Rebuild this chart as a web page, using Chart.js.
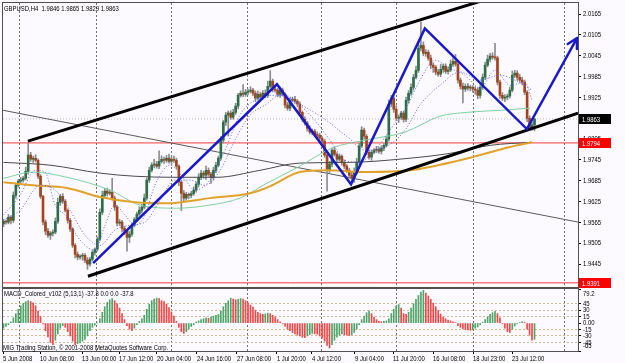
<!DOCTYPE html>
<html>
<head>
<meta charset="utf-8">
<title>GBPUSD,H4</title>
<script src="https://cdn.jsdelivr.net/npm/chart.js@4.4.1/dist/chart.umd.min.js"></script>
<style>
  html, body { margin: 0; padding: 0; background: #fcfaff; }
  #wrap { position: relative; width: 625px; height: 363px; overflow: hidden; background: #fcfaff; }
  #wrap canvas { position: absolute; left: 0; }
  #mainChart { top: 0; }
  #macdChart { top: 286px; }
  .txt { position: absolute; font: 8px 'Liberation Sans', Arial, sans-serif; color: #000; white-space: pre; line-height: 9px; transform: scaleX(0.74); transform-origin: 0 0; }
</style>
</head>
<body>
<div id="wrap">
  <canvas id="mainChart" width="625" height="288"></canvas>
  <canvas id="macdChart" width="625" height="77"></canvas>
  <div class="txt" style="left:4px;top:4px">GBPUSD,H4  1.9846 1.9865 1.9829 1.9863</div>
  <div class="txt" style="left:4px;top:289px">MACD_Colored_v102 (5,13,1) -37.8 0.0 0.0 -37.8</div>
  <div class="txt" style="left:3px;top:343px">MIG Trading Station, © 2001-2008 MetaQuotes Software Corp.</div>
</div>
<script>
'use strict';

// ---- H4 candles (one per bar, bar index = position) ----
const firstOpen = 1.9561;
const closes = [
  1.9568, 1.9566, 1.9580, 1.9571, 1.9643, 1.9672, 1.9684, 1.9687, 1.9692, 1.9712, 1.9759, 1.9747, 1.9750, 1.9744, 1.9698, 1.9640, 1.9566, 1.9540, 1.9528, 1.9534, 1.9537, 1.9568, 1.9623, 1.9640,
  1.9626, 1.9600, 1.9571, 1.9546, 1.9499, 1.9473, 1.9465, 1.9468, 1.9470, 1.9456, 1.9445, 1.9459, 1.9479, 1.9488, 1.9517, 1.9594, 1.9643, 1.9655, 1.9649, 1.9652, 1.9635, 1.9609, 1.9563, 1.9566,
  1.9548, 1.9540, 1.9522, 1.9531, 1.9557, 1.9574, 1.9589, 1.9600, 1.9609, 1.9635, 1.9687, 1.9715, 1.9730, 1.9733, 1.9727, 1.9741, 1.9747, 1.9744, 1.9750, 1.9741, 1.9747, 1.9744, 1.9727, 1.9681,
  1.9649, 1.9635, 1.9646, 1.9643, 1.9648, 1.9658, 1.9675, 1.9695, 1.9707, 1.9701, 1.9715, 1.9704, 1.9695, 1.9715, 1.9730, 1.9750, 1.9802, 1.9854, 1.9874, 1.9880, 1.9868, 1.9882, 1.9900, 1.9931,
  1.9937, 1.9934, 1.9940, 1.9943, 1.9946, 1.9937, 1.9923, 1.9934, 1.9926, 1.9937, 1.9931, 1.9957, 1.9972, 1.9949, 1.9946, 1.9934, 1.9946, 1.9934, 1.9903, 1.9894, 1.9917, 1.9920, 1.9914, 1.9906,
  1.9882, 1.9862, 1.9851, 1.9836, 1.9825, 1.9828, 1.9819, 1.9816, 1.9808, 1.9799, 1.9759, 1.9715, 1.9733, 1.9773, 1.9761, 1.9747, 1.9756, 1.9738, 1.9727, 1.9715, 1.9701, 1.9692, 1.9712, 1.9738,
  1.9785, 1.9831, 1.9813, 1.9767, 1.9753, 1.9767, 1.9773, 1.9776, 1.9770, 1.9779, 1.9787, 1.9805, 1.9906, 1.9923, 1.9891, 1.9865, 1.9868, 1.9880, 1.9862, 1.9917, 1.9937, 1.9954, 1.9983, 2.0003,
  2.0067, 2.0075, 2.0052, 2.0055, 2.0038, 2.0018, 2.0012, 1.9998, 1.9992, 2.0006, 2.0015, 2.0000, 2.0004, 2.0021, 2.0029, 2.0021, 1.9975, 1.9957, 1.9949, 1.9957, 1.9952, 1.9954, 1.9949, 1.9946,
  1.9931, 1.9954, 1.9983, 2.0018, 2.0035, 2.0044, 2.0041, 2.0039, 1.9969, 1.9931, 1.9923, 1.9926, 1.9929, 1.9946, 1.9989, 1.9995, 1.9983, 1.9975, 1.9969, 1.9940, 1.9865, 1.9839, 1.9846, 1.9863
];
// upper / lower shadow length in pips
const wickHi = [
  6,4,8,5,10,6,5,8,6,12,35,8,6,10,4,5,3,6,8,5,7,10,12,6,
  8,5,4,6,3,5,7,4,6,5,8,6,5,4,6,10,12,8,9,7,40,6,5,8,
  5,6,4,8,7,5,6,10,8,12,6,9,7,14,8,30,10,6,8,12,7,9,6,4,
  5,8,6,4,7,9,6,10,8,6,12,7,5,9,8,6,10,5,8,6,7,9,8,6,
  7,25,8,6,10,5,7,9,6,8,10,15,30,6,8,5,9,6,4,8,7,6,8,5,
  6,4,7,5,8,6,5,7,6,4,5,6,8,7,9,5,6,4,7,5,6,8,10,12,
  8,10,6,5,7,6,5,8,6,7,5,9,12,8,6,10,7,5,6,9,8,10,8,12,
  20,67,10,8,6,9,7,5,8,15,6,7,9,12,10,20,8,6,9,7,8,6,5,7,
  6,8,10,9,12,8,10,40,5,6,8,7,6,9,12,8,7,9,8,6,5,7,8,2
];
const wickLo = [
  8,6,5,10,6,8,5,7,6,5,8,6,9,5,7,6,8,10,6,12,8,5,6,9,
  6,5,8,7,6,10,8,6,12,7,15,6,5,8,6,5,7,6,8,5,6,9,8,7,
  10,10,40,15,6,5,7,6,8,5,6,7,5,8,6,7,5,9,6,5,8,6,7,10,
  50,8,6,10,7,5,6,8,7,9,12,6,18,8,7,5,6,8,10,60,6,6,6,8,
  5,7,6,8,5,7,10,6,8,5,7,6,5,8,6,7,9,5,8,6,7,5,6,8,
  5,7,6,8,5,7,6,9,5,8,6,60,7,8,5,10,6,8,7,6,9,10,12,8,
  6,5,8,7,6,9,5,7,6,8,7,5,6,8,9,7,12,6,8,7,9,6,8,5,
  6,8,7,9,6,10,15,8,6,7,9,6,8,5,7,6,9,8,40,7,6,8,9,12,
  10,8,6,7,5,8,6,7,8,9,7,10,8,6,5,7,9,6,8,7,10,8,8,17
];

// ---- MACD_Colored histogram ----
const macdVals = [
  -12,-8,-4,3,12,22,32,40,46,50,52,50,47,40,28,15,-2,-18,-32,-45,-50,-40,-25,-12,
  -6,-10,-20,-30,-42,-50,-48,-46,-42,-38,-30,-18,-10,-5,0,10,25,38,48,54,57,52,45,35,
  22,8,-6,-14,-18,-12,-4,4,10,18,32,44,52,56,58,57,52,50,44,36,26,16,4,-10,
  -20,-24,-20,-14,-8,-4,2,5,8,10,12,11,14,16,18,20,28,38,46,52,58,56,54,55,
  57,56,52,47,42,37,30,25,22,20,21,23,22,18,14,8,3,-2,-8,-14,-18,-22,-25,-28,
  -30,-33,-34,-30,-27,-24,-25,-26,-30,-35,-42,-52,-58,-50,-40,-33,-28,-25,-27,-28,-29,-27,-22,-14,
  -4,8,16,24,28,22,14,8,4,3,4,5,10,22,32,40,43,35,22,20,25,35,45,55,
  64,72,76,70,63,55,46,38,29,21,14,10,7,5,3,1,-6,-10,-13,-15,-16,-17,-16,-12,
  -9,-4,2,8,14,20,24,27,22,12,-2,-12,-20,-22,-14,-7,-2,1,3,2,-14,-28,-40,-37.8
];

// ---- moving averages (traced, [bar, price]) ----
const maGray = [[0,1.9738],[18.8,1.9730],[39.1,1.9707],[53.2,1.9698],[68.6,1.9695],[86.4,1.9695],[103.8,1.9715],[120,1.9736],[140.3,1.9738],[164.6,1.9750],[180.8,1.9764],[197,1.9787],[214,1.9796]];
const maGreen = [[0,1.9692],[11.9,1.9710],[25.7,1.9695],[43.1,1.9658],[55.3,1.9615],[70.2,1.9606],[83.6,1.9615],[95.7,1.9635],[105.9,1.9675],[119.2,1.9724],[133,1.9779],[146.4,1.9802],[162.5,1.9825],[176.7,1.9871],[187.6,1.9882],[201,1.9888],[213.2,1.9894]];
const maOrange = [[0,1.9681],[11.9,1.9672],[25.7,1.9664],[39.1,1.9638],[53.2,1.9623],[66.2,1.9620],[83.6,1.9635],[99.8,1.9649],[107.9,1.9669],[120,1.9710],[131,1.9715],[147.2,1.9710],[164.6,1.9715],[184.8,1.9744],[205.1,1.9782],[214,1.9796]];
const maFast = [[0,1.9586],[6.7,1.9643],[12.8,1.9715],[16.8,1.9710],[20.9,1.9615],[24.9,1.9586],[31,1.9514],[37,1.9485],[41.1,1.9557],[45.1,1.9615],[49.2,1.9586],[53.2,1.9557],[57.3,1.9586],[61.3,1.9672],[67.4,1.9730],[73.5,1.9687],[77.5,1.9658],[83.6,1.9687],[89.7,1.9773],[95.7,1.9874],[101.8,1.9917],[107.9,1.9931],[114,1.9931],[120,1.9903],[126.1,1.9859],[132.2,1.9802],[138.3,1.9744],[143.5,1.9738],[150.4,1.9773],[157.3,1.9839],[162.6,1.9888],[168.6,1.9975],[174.7,2.0032],[180.8,2.0009],[186.8,1.9989],[192.9,1.9952],[199,2.0003],[205.1,1.9960],[211.1,1.9969],[214,1.9917]];
const maSlow = [[0,1.9571],[6.7,1.9600],[14.8,1.9672],[20.9,1.9658],[26.9,1.9600],[33,1.9528],[39.1,1.9499],[45.1,1.9543],[51.2,1.9557],[57.3,1.9566],[63.4,1.9629],[69.4,1.9687],[75.5,1.9687],[81.6,1.9672],[87.7,1.9715],[93.7,1.9802],[99.8,1.9874],[105.9,1.9903],[111.9,1.9931],[119.2,1.9908],[128.9,1.9868],[139.5,1.9810],[146.4,1.9773],[154.5,1.9782],[162.6,1.9831],[168.6,1.9903],[176.7,1.9960],[184.8,1.9998],[192.9,1.9975],[201,1.9989],[207.1,1.9975],[214,1.9946]];

// ---- drawn objects ----
const waveBars = [36.3, 110.7, 140.7, 170.6, 211.9, 232.2];
const wavePrices = [1.9448, 1.9963, 1.9675, 2.0124, 1.9834, 2.0096];
const chanUpBars = [9.9, 232.6], chanUpPrices = [1.9799, 2.0289];
const chanLoBars = [34.2, 232.6], chanLoPrices = [1.9410, 1.9880];
const trendBars = [-0.2, 232.6], trendPrices = [1.9888, 1.9566];
const levelPrices = [1.9794, 1.9391];
const lastPrice = 1.9863;
const tagValues = [1.9863, 1.9794, 1.9391];
const tagColors = ['#000000', '#ff0000', '#ff0000'];

// ---- axes ----
const X_MIN = -0.2, X_MAX = 232.6;
const Y_MIN = 1.9379, Y_MAX = 2.0197;
const priceTicks = [2.0165, 2.0105, 2.0045, 1.9985, 1.9925, 1.9865, 1.9805, 1.9745, 1.9685, 1.9625, 1.9565, 1.9505, 1.9445];
const macdTicks = [79.2, 45, 30, 15, 0, -15, -30, -45, -65];
const macdDotted = [45, 30, 15, -15, -30, -45];
const gridBars = [6.3, 37.5, 68.2, 98.6, 128.9, 159.3, 190.1, 227.3];
const timeLabels = ['5 Jun 2008', '10 Jun 08:00', '13 Jun 00:00', '17 Jun 12:00', '20 Jun 04:00', '24 Jun 16:00', '27 Jun 08:00', '1 Jul 20:00', '4 Jul 12:00', '9 Jul 04:00', '11 Jul 20:00', '16 Jul 08:00', '18 Jul 23:00', '23 Jul 12:00'];
const timeLabelBars = [-0.2, 14.8, 31.8, 46.8, 62.1, 78.3, 94.5, 110.7, 124.9, 142.3, 157.7, 173.9, 190.1, 205.9];

const FONT = "'Liberation Sans', Arial, sans-serif";
const SQUEEZE = 0.74; // terminal font is narrow
Chart.defaults.font = { family: FONT, size: 8 };
Chart.defaults.color = '#000';

// candle pieces
const opens = closes.map((c, i) => i === 0 ? firstOpen : closes[i - 1]);
const wickData = closes.map((c, i) => ({
  x: i,
  y: [Math.min(opens[i], c) - wickLo[i] / 10000, Math.max(opens[i], c) + wickHi[i] / 10000]
}));
const bodyData = closes.map((c, i) => ({ x: i, y: [opens[i], c] }));
const bodyColors = closes.map((c, i) => c >= opens[i] ? '#2c6e48' : '#a8421c');

const pts = arr => arr.map(p => ({ x: p[0], y: p[1] }));
const zip = (xs, ys) => xs.map((x, i) => ({ x: x, y: ys[i] }));

function fixWidth(w) { return s => { s.width = w; s.paddingTop = 0; s.paddingBottom = 0; }; }
function fixHeight(h) { return s => { s.height = h; s.paddingLeft = 0; s.paddingRight = 0; }; }

// draw every label a bit narrower, like the terminal font
const squeezePlugin = {
  id: 'squeeze',
  beforeInit(chart) {
    const ctx = chart.ctx;
    const fill = ctx.fillText;
    ctx.fillText = function (text, x, y, maxWidth) {
      this.save();
      this.translate(x, y);
      this.scale(SQUEEZE, 1);
      if (maxWidth === undefined) fill.call(this, text, 0, 0);
      else fill.call(this, text, 0, 0, maxWidth / SQUEEZE);
      this.restore();
    };
  }
};

const framePlugin = {
  id: 'frame',
  afterDraw(chart) {
    const a = chart.chartArea, ctx = chart.ctx;
    ctx.save();
    ctx.strokeStyle = '#505050';
    ctx.lineWidth = 1;
    ctx.strokeRect(Math.round(a.left) - 0.5, Math.round(a.top) - 0.5, Math.round(a.right - a.left) + 1, Math.round(a.bottom - a.top) + 1);
    ctx.restore();
  }
};

const tagPlugin = {
  id: 'tags',
  afterDraw(chart) {
    const ys = chart.scales.y, ctx = chart.ctx;
    ctx.save();
    ctx.font = '8px ' + FONT;
    ctx.textBaseline = 'middle';
    tagValues.forEach((v, i) => {
      const py = Math.round(ys.getPixelForValue(v));
      ctx.fillStyle = tagColors[i];
      ctx.fillRect(579, py - 5, 32, 10);
      ctx.fillStyle = '#fff';
      ctx.fillText(v.toFixed(4), 582, py + 0.5);
    });
    ctx.restore();
  }
};

const arrowPlugin = {
  id: 'arrow',
  afterDatasetsDraw(chart) {
    const idx = chart.data.datasets.findIndex(d => d.label === 'wave');
    const el = chart.getDatasetMeta(idx).data;
    const a = el[el.length - 2], b = el[el.length - 1];
    const ang = Math.atan2(b.y - a.y, b.x - a.x);
    const ctx = chart.ctx;
    ctx.save();
    ctx.strokeStyle = '#1818cc';
    ctx.lineWidth = 2.5;
    ctx.lineCap = 'round';
    ctx.beginPath();
    [0.5, -0.5].forEach(d => {
      ctx.moveTo(b.x, b.y);
      ctx.lineTo(b.x - 11 * Math.cos(ang + d), b.y - 11 * Math.sin(ang + d));
    });
    ctx.stroke();
    ctx.restore();
  }
};

const lineDs = (label, data, color, width, order, extra) => Object.assign({
  type: 'line', label: label, data: data, borderColor: color, borderWidth: width,
  pointRadius: 0, fill: false, order: order
}, extra || {});

new Chart(document.getElementById('mainChart'), {
  type: 'bar',
  data: {
    datasets: [
      lineDs('bid', zip([X_MIN, X_MAX], [lastPrice, lastPrice]), '#b8b8b8', 1, 40, { borderDash: [1, 2] }),
      lineDs('level1', zip([X_MIN, X_MAX], [levelPrices[0], levelPrices[0]]), '#ff3c3c', 1, 39),
      lineDs('level2', zip([X_MIN, X_MAX], [levelPrices[1], levelPrices[1]]), '#ff3c3c', 1, 39),
      lineDs('trend', zip(trendBars, trendPrices), '#5a5a5a', 1, 38),
      { type: 'bar', label: 'wicks', data: wickData, backgroundColor: '#8c8c8c', barThickness: 1, grouped: false, order: 30 },
      { type: 'bar', label: 'bodies', data: bodyData, backgroundColor: bodyColors, barThickness: 2, grouped: false, minBarLength: 1, order: 29 },
      lineDs('ma200', pts(maGray), '#4a4a4a', 1, 20, { cubicInterpolationMode: 'monotone' }),
      lineDs('maGreen', pts(maGreen), '#7fcf9f', 1, 19, { cubicInterpolationMode: 'monotone' }),
      lineDs('maOrange', pts(maOrange), '#e0a22a', 2, 18, { cubicInterpolationMode: 'monotone' }),
      lineDs('maFast', pts(maFast), '#6060f0', 1, 17, { borderDash: [1, 2], cubicInterpolationMode: 'monotone' }),
      lineDs('maSlow', pts(maSlow), '#6060f0', 1, 16, { borderDash: [1, 2], cubicInterpolationMode: 'monotone' }),
      lineDs('chanUp', zip(chanUpBars, chanUpPrices), '#000', 3, 10),
      lineDs('chanLo', zip(chanLoBars, chanLoPrices), '#000', 3, 10),
      lineDs('wave', zip(waveBars, wavePrices), '#1818cc', 2.5, 5, { clip: false })
    ]
  },
  options: {
    responsive: false, animation: false, events: [],
    layout: { padding: { left: 3, top: 3, right: 0, bottom: 1 } },
    plugins: { legend: { display: false }, tooltip: { enabled: false } },
    scales: {
      x: {
        type: 'linear', min: X_MIN, max: X_MAX, offset: false,
        afterFit: fixHeight(0),
        afterBuildTicks: s => { s.ticks = gridBars.map(v => ({ value: v })); },
        ticks: { display: false },
        grid: { offset: false, drawTicks: false, color: '#6e6e6e', lineWidth: 1, borderDash: [2, 2] },
        border: { display: false, dash: [2, 2] }
      },
      y: {
        type: 'linear', position: 'right', min: Y_MIN, max: Y_MAX,
        afterFit: fixWidth(47),
        afterBuildTicks: s => { s.ticks = priceTicks.map(v => ({ value: v })); },
        ticks: { padding: 2, autoSkip: false, callback: v => v.toFixed(4) },
        grid: { drawOnChartArea: false, tickLength: 3, color: '#000' },
        border: { display: false }
      }
    }
  },
  plugins: [squeezePlugin, framePlugin, arrowPlugin, tagPlugin]
});

const macdColors = macdVals.map((v, i) => (i === 0 || v >= macdVals[i - 1]) ? '#4fa468' : '#f04848');

new Chart(document.getElementById('macdChart'), {
  type: 'bar',
  data: {
    datasets: [
      { label: 'MACD', data: macdVals.map((v, i) => ({ x: i, y: v })), backgroundColor: macdColors, barThickness: 1, grouped: false }
    ]
  },
  options: {
    responsive: false, animation: false, events: [],
    layout: { padding: { left: 3, top: 3, right: 0, bottom: 0 } },
    plugins: { legend: { display: false }, tooltip: { enabled: false } },
    scales: {
      x: {
        type: 'linear', min: X_MIN, max: X_MAX, offset: false, position: 'bottom',
        afterFit: fixHeight(12),
        afterBuildTicks: s => { s.ticks = timeLabelBars.map(v => ({ value: v })); },
        ticks: { align: 'start', padding: 0, maxRotation: 0, autoSkip: false, callback: (v, i) => timeLabels[i] },
        grid: { offset: false, drawOnChartArea: false, tickLength: 3, color: '#000' },
        border: { display: false }
      },
      xg: {
        type: 'linear', min: X_MIN, max: X_MAX, offset: false, position: 'top',
        afterFit: fixHeight(0),
        afterBuildTicks: s => { s.ticks = gridBars.map(v => ({ value: v })); },
        ticks: { display: false },
        grid: { offset: false, drawTicks: false, color: '#6e6e6e', borderDash: [2, 2] },
        border: { display: false, dash: [2, 2] }
      },
      y: {
        type: 'linear', position: 'right', min: -65, max: 79.2,
        afterFit: fixWidth(47),
        afterBuildTicks: s => { s.ticks = macdTicks.map(v => ({ value: v })); },
        ticks: {
          padding: 2, autoSkip: false,
          callback: v => v === 79.2 ? ['', '79.2'] : v === -65 ? ['-65', ''] : v === 0 ? '0.00' : String(v)
        },
        grid: {
          drawOnChartArea: true, tickLength: 3, tickColor: '#000',
          color: c => (c.tick && macdDotted.includes(c.tick.value)) ? '#ceb992' : 'rgba(0,0,0,0)',
          borderDash: [2, 2]
        },
        border: { display: false, dash: [2, 2] }
      }
    }
  },
  plugins: [squeezePlugin, framePlugin]
});
</script>
</body>
</html>
